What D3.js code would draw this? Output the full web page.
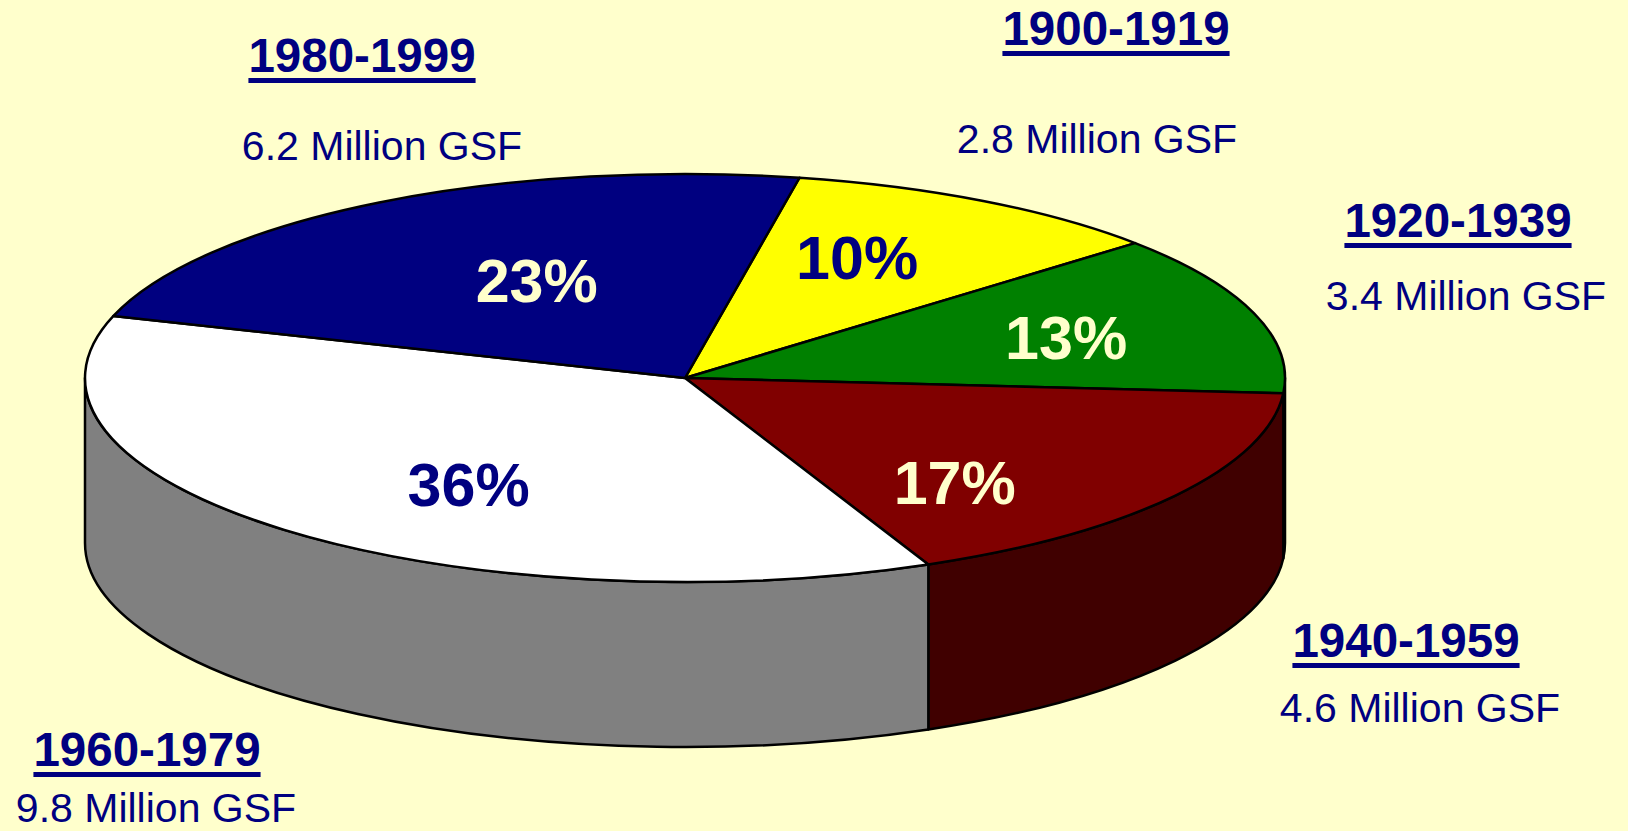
<!DOCTYPE html>
<html>
<head>
<meta charset="utf-8">
<script src="https://cdn.jsdelivr.net/npm/d3@7"></script>
<style>
  html, body { margin: 0; padding: 0; background: #FFFFCC; }
  svg { display: block; }
</style>
</head>
<body>
<div id="chart"></div>
<script>
// data
const categories = ["1900-1919", "1920-1939", "1940-1959", "1960-1979", "1980-1999"];
const gsfMillions = [2.8, 3.4, 4.6, 9.8, 6.2];
const shareLabels = [10, 13, 17, 36, 23];

const topColors = ["#FFFF00", "#008000", "#800000", "#FFFFFF", "#000080"];
const sideColors = ["#808000", "#004000", "#400000", "#808080", "#000040"];
const pctColors = ["#000080", "#FFFFCC", "#FFFFCC", "#000080", "#FFFFCC"];

const width = 1628;
const height = 831;
const cx = 685, cy = 378;   // centre of the top ellipse
const rx = 600, ry = 204;   // radii of the top ellipse
const depth = 165;          // thickness of the disc
const startDeg = 11;        // first slice starts just right of 12 o'clock

// where the % labels sit, as fractions of rx / ry along the slice mid angle
const pctPlace = [[0.577, 0.68], [0.67, 0.63], [0.55, 0.89], [0.54, 0.70], [0.485, 0.558]];
// callout positions (centre x, baseline y) for title and value text
const callouts = [
  { title: [1116, 45], value: [1097, 153] },
  { title: [1458, 237], value: [1466, 310] },
  { title: [1406, 657], value: [1420, 722] },
  { title: [147, 766], value: [156, 822] },
  { title: [362, 72], value: [382, 160] }
];

const svg = d3.select("#chart")
  .append("svg")
  .attr("width", width)
  .attr("height", height);

svg.append("rect")
  .attr("width", width)
  .attr("height", height)
  .attr("fill", "#FFFFCC");

const rad = Math.PI / 180;
const pie = d3.pie()
  .sort(null)
  .value((d) => d)
  .startAngle(startDeg * rad)
  .endAngle(startDeg * rad + 2 * Math.PI);

const arcs = pie(gsfMillions);

// angle measured clockwise from 12 o'clock, projected on the ellipse
const pt = (a, dy = 0) => [cx + rx * Math.sin(a), cy - ry * Math.cos(a) + dy];
const fmt = (p) => `${p[0].toFixed(2)},${p[1].toFixed(2)}`;

// visible front walls: the part of each slice between 90° and 270°
const walls = [];
arcs.forEach((d, i) => {
  for (const shift of [0, 2 * Math.PI]) {
    const a0 = Math.max(d.startAngle - shift, Math.PI / 2);
    const a1 = Math.min(d.endAngle - shift, 3 * Math.PI / 2);
    if (a1 > a0) walls.push({ i, a0, a1 });
  }
});

svg.append("g")
  .selectAll("path")
  .data(walls)
  .join("path")
  .attr("d", (w) =>
    `M${fmt(pt(w.a0))} A${rx},${ry} 0 0,1 ${fmt(pt(w.a1))}` +
    ` L${fmt(pt(w.a1, depth))} A${rx},${ry} 0 0,0 ${fmt(pt(w.a0, depth))} Z`)
  .attr("fill", (w) => sideColors[w.i])
  .attr("stroke", "#000")
  .attr("stroke-width", 2.5)
  .attr("stroke-linejoin", "round");

// top faces
svg.append("g")
  .selectAll("path")
  .data(arcs)
  .join("path")
  .attr("d", (d) => {
    const large = d.endAngle - d.startAngle > Math.PI ? 1 : 0;
    return `M${cx},${cy} L${fmt(pt(d.startAngle))} A${rx},${ry} 0 ${large},1 ${fmt(pt(d.endAngle))} Z`;
  })
  .attr("fill", (d, i) => topColors[i])
  .attr("stroke", "#000")
  .attr("stroke-width", 2.5)
  .attr("stroke-linejoin", "round");

// percentage labels
const pctSize = 61;
svg.append("g")
  .attr("font-family", "'Liberation Sans', Arial, sans-serif")
  .attr("font-weight", "bold")
  .attr("font-size", pctSize)
  .attr("text-anchor", "middle")
  .selectAll("text")
  .data(arcs)
  .join("text")
  .attr("x", (d, i) => cx + rx * pctPlace[i][0] * Math.sin((d.startAngle + d.endAngle) / 2))
  .attr("y", (d, i) => cy - ry * pctPlace[i][1] * Math.cos((d.startAngle + d.endAngle) / 2) + pctSize * 0.358)
  .attr("fill", (d, i) => pctColors[i])
  .text((d, i) => `${shareLabels[i]}%`);

// callouts: underlined period + size
const callG = svg.append("g")
  .attr("font-family", "'Liberation Sans', Arial, sans-serif")
  .attr("fill", "#000080")
  .attr("text-anchor", "middle");

categories.forEach((cat, i) => {
  const c = callouts[i];
  const t = callG.append("text")
    .attr("x", c.title[0])
    .attr("y", c.title[1])
    .attr("font-size", 47.5)
    .attr("font-weight", "bold")
    .text(cat);
  const w = t.node().getComputedTextLength();
  callG.append("rect")
    .attr("x", c.title[0] - w / 2)
    .attr("y", c.title[1] + 6)
    .attr("width", w)
    .attr("height", 5)
    .attr("fill", "#000080");
  callG.append("text")
    .attr("x", c.value[0])
    .attr("y", c.value[1])
    .attr("font-size", 41)
    .text(`${gsfMillions[i]} Million GSF`);
});
</script>
</body>
</html>
